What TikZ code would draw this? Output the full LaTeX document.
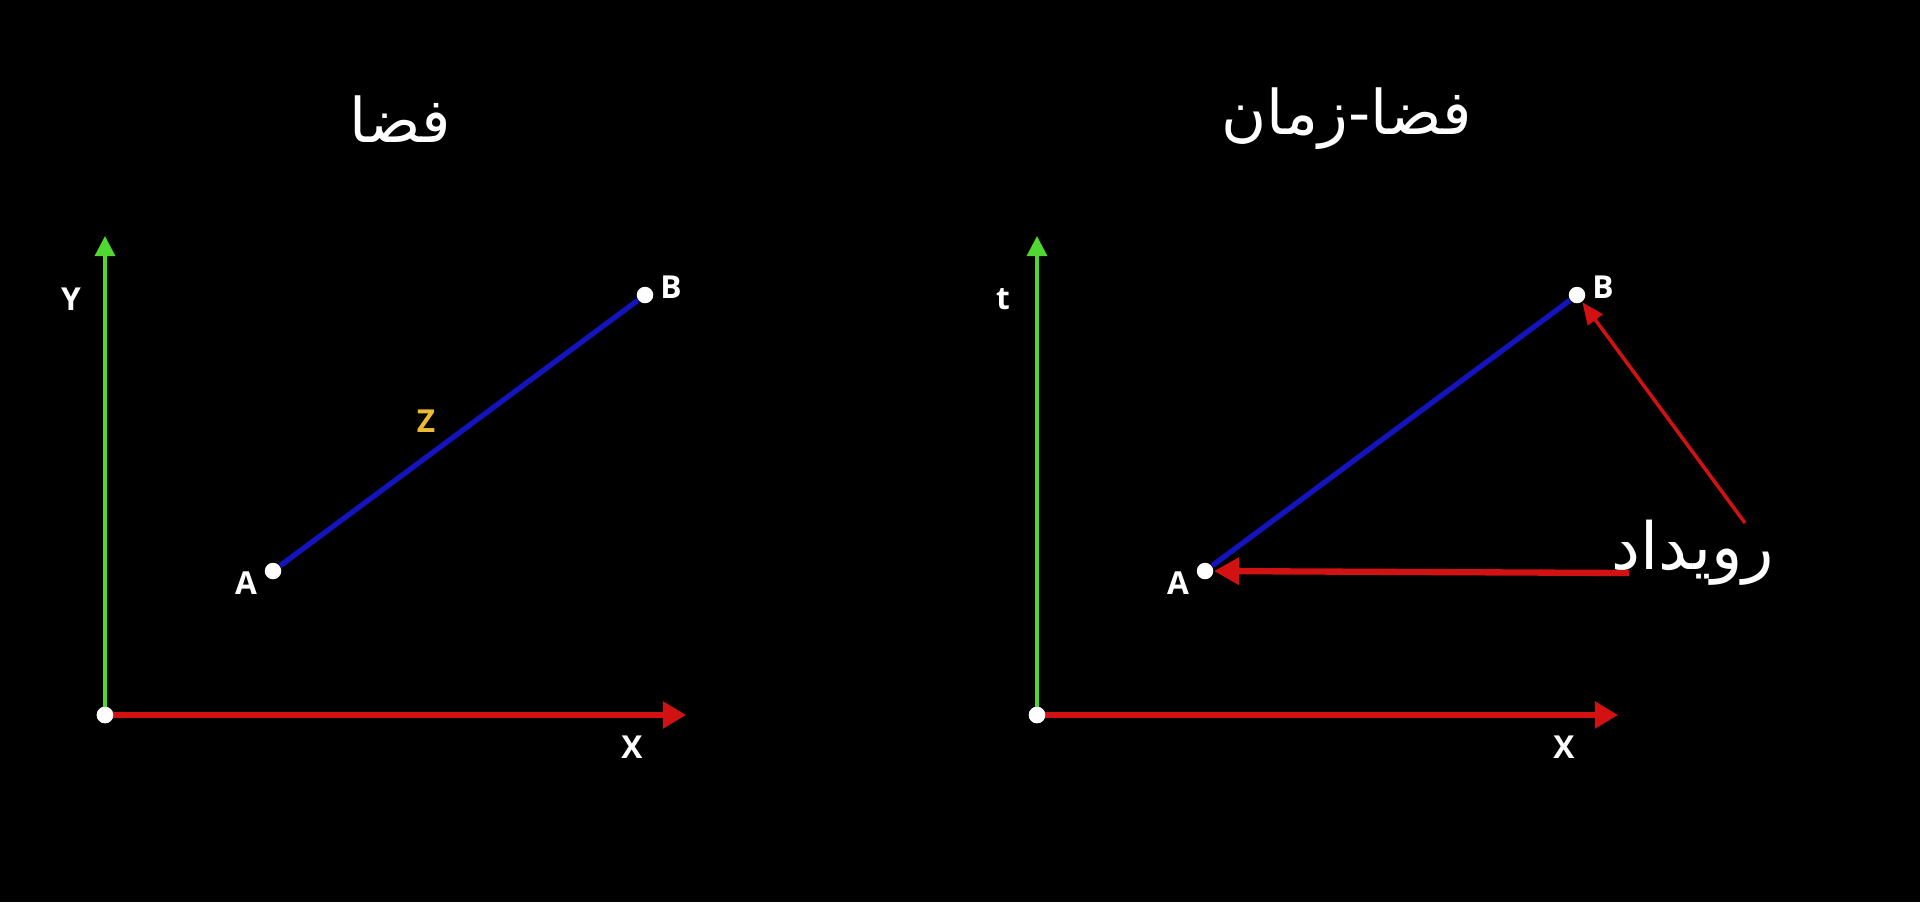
\documentclass[tikz,border=0pt]{standalone}
\usepackage{fontspec}
\setmainfont{Open Sans}
\newfontfamily\arabicfont[Script=Arabic]{DejaVu Sans}
\TeXXeTstate=1
\usetikzlibrary{arrows.meta}
\definecolor{axisgreen}{RGB}{80,215,50}
\definecolor{axisred}{RGB}{210,18,18}
\definecolor{lineblue}{RGB}{20,20,190}
\definecolor{zyellow}{RGB}{235,185,50}

\begin{document}
\begin{tikzpicture}[x=0.01cm, y=-0.01cm,
    dot/.style={circle, fill=white, draw=none, inner sep=0pt, minimum size=0.165cm},
    lbl/.style={text=white, inner sep=0pt, font=\bfseries\fontsize{9}{9}\selectfont},
    title/.style={text=white, inner sep=0pt, font=\arabicfont\fontsize{17.5}{21}\selectfont}]
            \fill[black] (0,0) rectangle (1920,902);
            \foreach \p/\ox/\up in {l/105/Y, r/1037/t} {
                \node[dot] (o\p) at (\ox, 715) {};
                \coordinate (y\p) at (\ox, 236);
                \coordinate (x\p) at (\ox+581, 715);
                \node[dot] (a\p) at (\ox+168, 571) {};
                \node[dot] (b\p) at (\ox+540, 295) {};
                \draw[axisgreen, line width=0.9pt, -{Triangle[length=0.2cm, width=0.2cm]}] (o\p.center) -- (y\p);
                \draw[axisred, line width=1.5pt, -{Triangle[length=0.23cm, width=0.26cm]}] (o\p.center) -- (x\p);
                \draw[lineblue, line width=1.5pt] (a\p) -- (b\p);
                \node[dot] at (o\p) {};
                \node[lbl] (up\p) at (\ox-34, 299) {\up};
                \node[lbl] (xl\p) at (\ox+527, 747) {X};
                \node[lbl] (al\p) at ([shift={(-27,12)}]a\p) {A};
                \node[lbl] (bl\p) at ([shift={(26,-8)}]b\p) {B};
            }
            \node[lbl, text=zyellow] (z) at (426, 421) {Z};
            % titles
            \node[title] (space) at (400, 119) {\beginR فضا\endR};
            \node[title] (spacetime) at (1347, 119) {\beginR فضا-زمان\endR};
            % event
            \node[title, font=\arabicfont\fontsize{18.5}{22}\selectfont] (event) at (1693, 553) {\beginR رویداد\endR};
            \coordinate (e1) at (1629, 573);
            \coordinate (e2) at (1745, 523);
            \draw[axisred, line width=1.8pt, -{Triangle[length=0.25cm, width=0.26cm]}] (e1) -- (ar);
            \draw[axisred, line width=1pt, -{Triangle[length=0.22cm, width=0.18cm]}] (e2) -- (br);
        \end{tikzpicture}
\end{document}
